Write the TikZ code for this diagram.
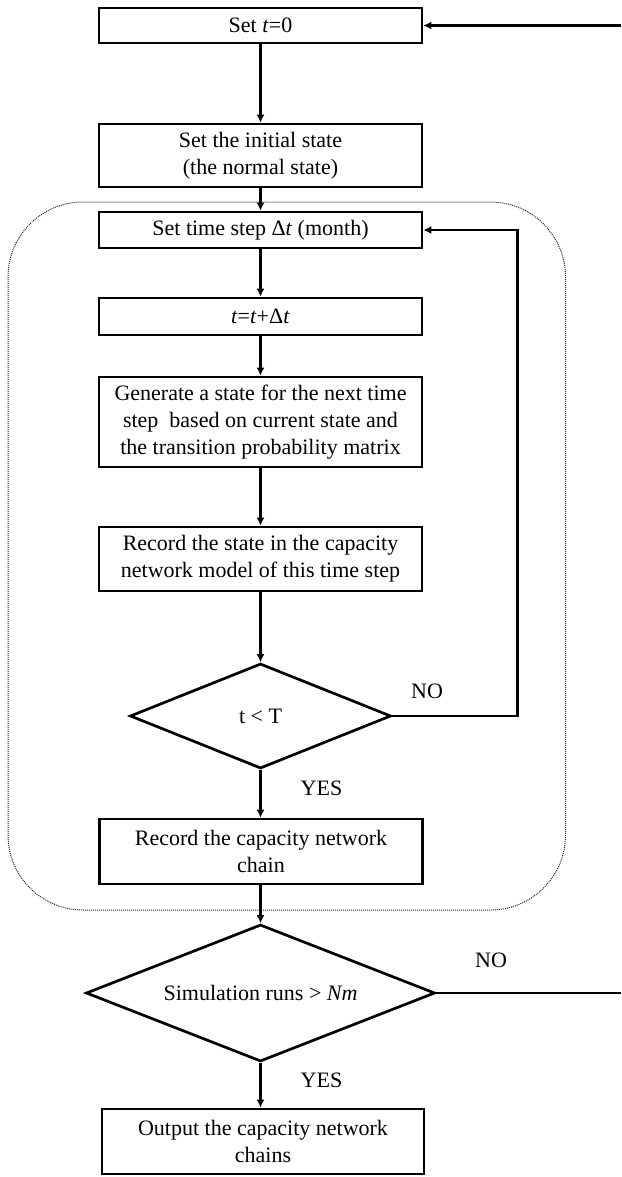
\documentclass[tikz,border=0pt]{standalone}
\usepackage{fontspec}
\setmainfont{Liberation Serif}
\usetikzlibrary{shapes.geometric,arrows.meta}
\begin{document}
\begin{tikzpicture}[x=1pt,y=-1pt,
  font=\fontsize{22}{26.7}\selectfont,
  stepbox/.style={draw, line width=2.7pt, minimum width=323pt, inner sep=0pt, align=center},
  dia/.style={draw, diamond, line width=2.7pt, inner sep=0pt},
  link/.style={line width=2.4pt},
  arr/.style={link, -{Latex[length=8pt,width=8pt]}},
  lbl/.style={inner sep=0pt}
]
\useasboundingbox (0,0) rectangle (621,1177);

% dotted frame around the inner time loop
\draw[line width=1pt, dash pattern=on 1pt off 1pt, rounded corners=75pt, black!85]
  (8,202) rectangle (565.5,910);

% process boxes
\node[stepbox, minimum height=35pt] (b1) at (260.5,25.5) {Set \textit{t}=0};
\node[stepbox, minimum height=63pt] (b2) at (260.5,155.5) {Set the initial state\\(the normal state)};
\node[stepbox, minimum height=36pt] (b3) at (260.5,230) {Set time step Δ\textit{t} (month)};
\node[stepbox, minimum height=37pt] (b4) at (260.5,316.5) {\textit{t}=\textit{t}+Δ\textit{t}};
\node[stepbox, minimum height=90pt] (b5) at (260.5,422)
  {Generate a state for the next time\\step\ \ based on current state and\\the transition probability matrix};
\node[stepbox, minimum height=64pt] (b6) at (260.5,559)
  {Record the state in the capacity\\network model of this time step};
\node[stepbox, minimum height=65pt] (b7) at (261,851.5) {Record the capacity network\\chain};
\node[stepbox, minimum height=65pt, minimum width=322pt] (b8) at (263,1141.5)
  {Output the capacity network\\chains};

% decisions
\node[dia, minimum width=261pt, minimum height=105pt] (d1) at (260.5,716) {};
\node[lbl] (d1t) at (d1) {t < T};
\node[dia, minimum width=349pt, minimum height=137pt] (d2) at (260.5,993) {};
\node[lbl] (d2t) at (d2) {Simulation runs > \textit{Nm}};

% branch labels
\node[lbl] (no1) at (427,691) {NO};
\node[lbl] (yes1) at (321.5,788) {YES};
\node[lbl] (no2) at (491,960) {NO};
\node[lbl] (yes2) at (321.5,1080) {YES};

% main flow
\draw[arr] (b1.south) -- (b1.south |- b2.north);
\draw[arr] (b2.south) -- (b2.south |- b3.north);
\draw[arr] (b3.south) -- (b3.south |- b4.north);
\draw[arr] (b4.south) -- (b4.south |- b5.north);
\draw[arr] (b5.south) -- (b5.south |- b6.north);
\draw[arr] (b6.south) -- (d1.north);
\draw[arr] (d1.south) -- (d1.south |- b7.north);
\draw[arr] (d1.south |- b7.south) -- (d2.north);
\draw[arr] (d2.south) -- (d2.south |- b8.north);

% inner loop: t < T fails
\coordinate (fb) at (517.5,0);
\draw[arr] (d1.east) -- (d1.east -| fb) -- (b3.east -| fb) -- (b3.east);

% outer loop: more simulation runs
\coordinate (outA) at (621,993);
\coordinate (outB) at (621,25.5);
\draw[link] (d2.east) -- (outA);
\draw[arr] (outB) -- (b1.east);
\end{tikzpicture}
\end{document}
